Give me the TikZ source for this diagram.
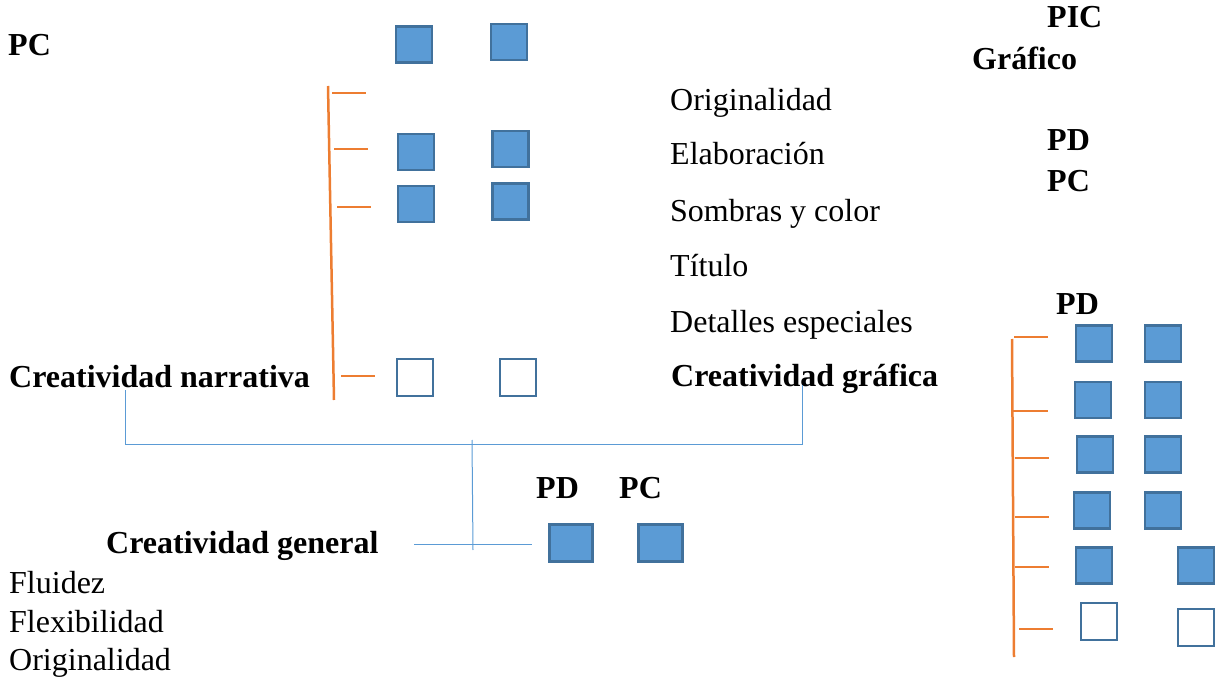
\documentclass[tikz,border=0pt]{standalone}
\usepackage{fontspec}
\setmainfont{Liberation Serif}
\definecolor{boxfill}{HTML}{5B9BD5}
\definecolor{boxedge}{HTML}{41719C}
\definecolor{brk}{HTML}{ED7D31}
\definecolor{lnk}{HTML}{5B9BD5}
\begin{document}
\begin{tikzpicture}[x=1pt,y=-1pt,
  txt/.style={anchor=base west,inner sep=0pt,font=\fontsize{32}{38}\selectfont},
  btxt/.style={txt,font=\fontsize{32}{38}\selectfont\bfseries},
  sqf/.style={draw=boxedge,fill=boxfill,line width=2.5pt,minimum width=36pt,minimum height=36pt,inner sep=0pt},
  sqh/.style={draw=boxedge,fill=white,line width=2pt,minimum width=36pt,minimum height=37pt,inner sep=0pt},
  orange/.style={draw=brk,line width=2.5pt},
  link/.style={draw=lnk,line width=1pt}]
\useasboundingbox (0,0) rectangle (1219,679);
% texts
\node[btxt] (pcl) at (8,56) {PC};
\node[btxt] (pic) at (1047,28) {PIC};
\node[btxt] (graf) at (972,70) {Gráfico};
\node[btxt] (pdr) at (1047,151) {PD};
\node[btxt] (pcr) at (1047,192) {PC};
\node[btxt] (pdr2) at (1056,314) {PD};
\node[txt] (orig) at (670,111) {Originalidad};
\node[txt] (elab) at (670,165) {Elaboración};
\node[txt] (somb) at (670,222) {Sombras y color};
\node[txt] (tit) at (670,277) {Título};
\node[txt] (det) at (670,332) {Detalles especiales};
\node[btxt] (cnarr) at (9,387) {Creatividad narrativa};
\node[btxt] (cgraf) at (671,386) {Creatividad gráfica};
\node[btxt] (pdg) at (536,498) {PD};
\node[btxt] (pcg) at (619,498) {PC};
\node[btxt] (cgen) at (106,553) {Creatividad general};
\node[txt] (flu) at (9,593) {Fluidez};
\node[txt] (flex) at (9,632) {Flexibilidad};
\node[txt] (orig2) at (9,670) {Originalidad};
% narrative squares
\node[sqf] (n0a) at (414,44.5) {};
\node[sqf] (n0b) at (509,42) {};
\node[sqf] (n1a) at (416,152) {};
\node[sqf] (n1b) at (510.5,149) {};
\node[sqf] (n2a) at (416,204) {};
\node[sqf] (n2b) at (510.5,201.5) {};
\node[sqh] (n5a) at (414.5,377) {};
\node[sqh] (n5b) at (517.5,377) {};
% graphic squares
\node[sqf] (r1a) at (1094,343.5) {};
\node[sqf] (r1b) at (1163,343.5) {};
\node[sqf] (r2a) at (1093,400) {};
\node[sqf] (r2b) at (1163,400) {};
\node[sqf] (r3a) at (1095,454.5) {};
\node[sqf] (r3b) at (1163,454.5) {};
\node[sqf] (r4a) at (1092,510.5) {};
\node[sqf] (r4b) at (1163,510.5) {};
\node[sqf] (r5a) at (1094,565.5) {};
\node[sqf] (r5b) at (1196,565.5) {};
\node[sqh] (r6a) at (1099,621.5) {};
\node[sqh] (r6b) at (1196,627.5) {};
% general squares
\node[sqf,minimum width=43pt,minimum height=37pt] (g1) at (571,543) {};
\node[sqf,minimum width=44pt,minimum height=37pt] (g2) at (660.5,543) {};
% left bracket
\coordinate (lbt) at (328,86);
\coordinate (lbb) at (334,400);
\coordinate (lt1a) at (332,93); \coordinate (lt1b) at (366,93);
\coordinate (lt2a) at (334,149); \coordinate (lt2b) at (368,149);
\coordinate (lt3a) at (337,207); \coordinate (lt3b) at (371,207);
\coordinate (lt4a) at (341,376); \coordinate (lt4b) at (375,376);
\draw[orange] (lbt) -- (lbb);
\draw[orange] (lt1a) -- (lt1b);
\draw[orange] (lt2a) -- (lt2b);
\draw[orange] (lt3a) -- (lt3b);
\draw[orange] (lt4a) -- (lt4b);
% right bracket
\coordinate (rbt) at (1012,339);
\coordinate (rbb) at (1014,657);
\draw[orange] (rbt) -- (rbb);
\coordinate (rt1a) at (1014,337); \coordinate (rt1b) at (1048,337);
\coordinate (rt2a) at (1013,411); \coordinate (rt2b) at (1048,411);
\coordinate (rt3a) at (1015,458); \coordinate (rt3b) at (1049,458);
\coordinate (rt4a) at (1015,517); \coordinate (rt4b) at (1049,517);
\coordinate (rt5a) at (1015,567); \coordinate (rt5b) at (1049,567);
\coordinate (rt6a) at (1019,629); \coordinate (rt6b) at (1053,629);
\draw[orange] (rt1a) -- (rt1b);
\draw[orange] (rt2a) -- (rt2b);
\draw[orange] (rt3a) -- (rt3b);
\draw[orange] (rt4a) -- (rt4b);
\draw[orange] (rt5a) -- (rt5b);
\draw[orange] (rt6a) -- (rt6b);
% blue links
\coordinate (bl1) at (125,390);
\coordinate (bl2) at (125,444);
\coordinate (br1) at (802,385);
\coordinate (br2) at (802,444);
\coordinate (bm1) at (472,440);
\coordinate (bm2) at (473,550);
\coordinate (bg1) at (414,544);
\coordinate (bg2) at (532,544);
\draw[link] (bl1) -- (bl2) -- (br2) -- (br1);
\draw[link] (bm1) -- (bm2);
\draw[link] (bg1) -- (bg2);
\end{tikzpicture}
\end{document}
